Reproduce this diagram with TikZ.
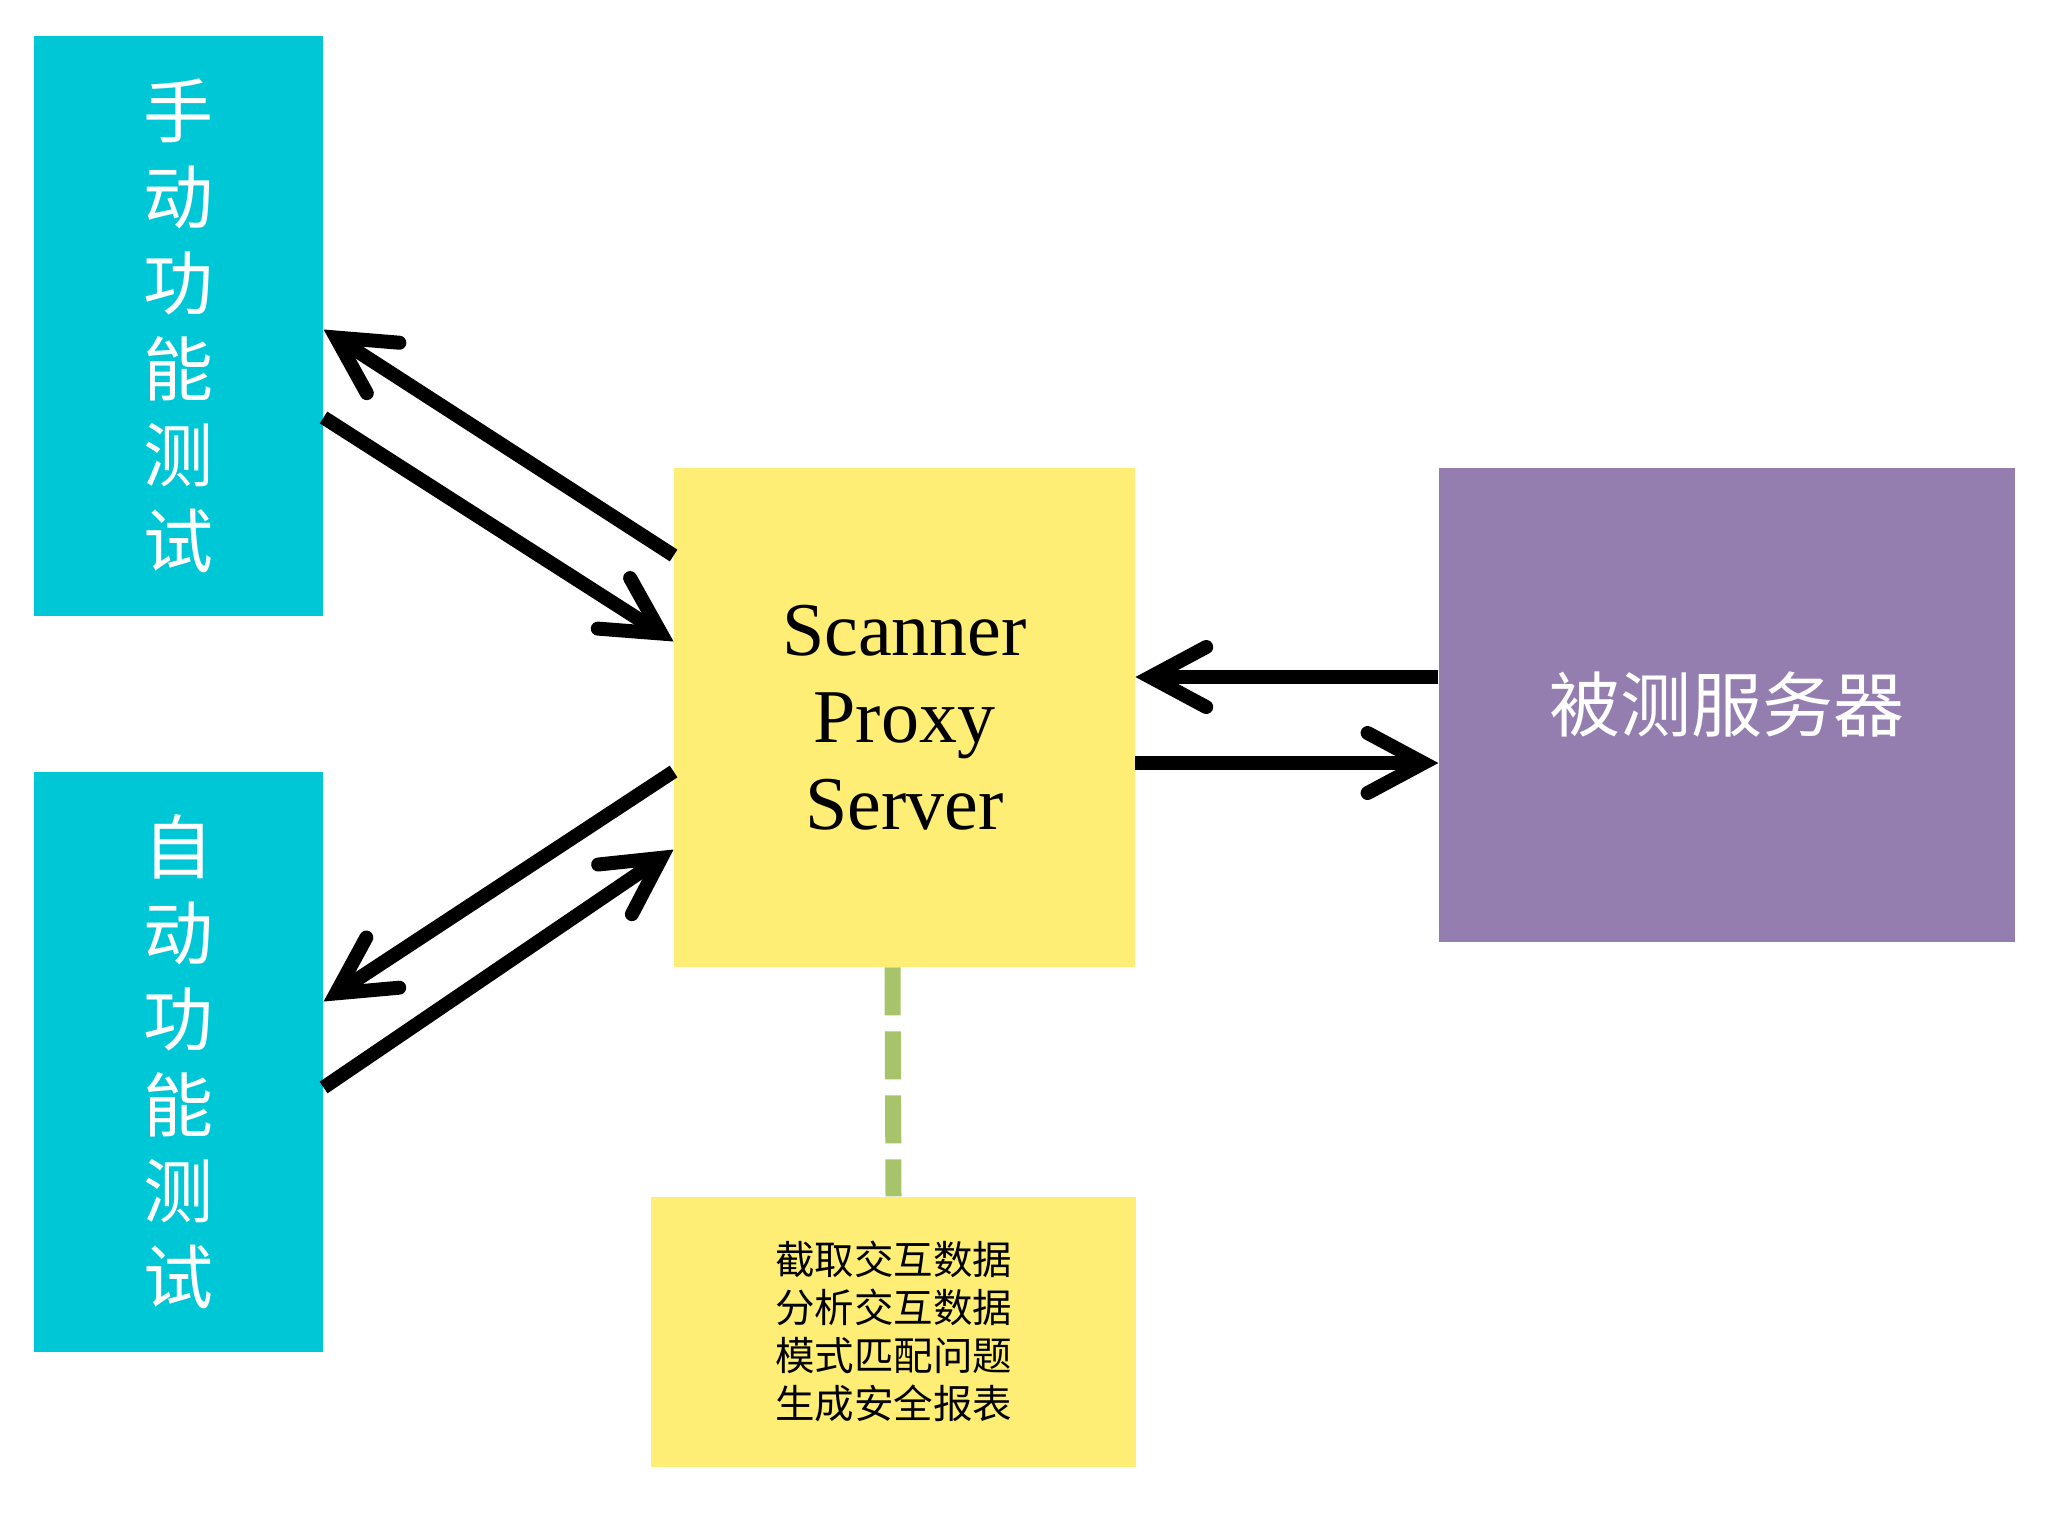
\documentclass[tikz,border=0pt]{standalone}
\usepackage{fontspec}
\setmainfont{Liberation Serif}
\newfontfamily\cjk{Noto Sans CJK SC}
\usetikzlibrary{arrows.meta, positioning}
\definecolor{testcyan}{RGB}{0,199,214}
\definecolor{proxyyellow}{RGB}{255,238,117}
\definecolor{serverpurple}{RGB}{148,126,176}
\definecolor{linkgreen}{RGB}{168,196,106}

\begin{document}
\begin{tikzpicture}[x=0.5pt, y=-0.5pt,
    box/.style={rectangle, inner sep=0pt, align=center},
    client/.style={box, fill=testcyan, text=white, minimum width=144.5pt, minimum height=290pt,
        font=\cjk\fontsize{35}{43}\selectfont},
    flow/.style={line width=7pt, -{Straight Barb[length=28pt, width=30pt, line cap=round]}},
    link/.style={line width=8pt, linkgreen, dash pattern=on 24pt off 8pt}]
    \useasboundingbox (0,0) rectangle (2056,1512);

    \node[box, fill=proxyyellow, minimum width=230.5pt, minimum height=249.5pt,
        font=\fontsize{38}{43.5}\selectfont] (proxy) at (904.5,717.5) {Scanner\\Proxy\\Server};
    \node[client, left=175pt of proxy, yshift=196pt]  (manual) {手\\动\\功\\能\\测\\试};
    \node[client, left=175pt of proxy, yshift=-172pt] (auto)   {自\\动\\功\\能\\测\\试};
    \node[box, fill=serverpurple, text=white, minimum width=288pt, minimum height=237pt,
        font=\cjk\fontsize{35.5}{40}\selectfont, right=151.5pt of proxy, yshift=6.25pt] (server) {被测服务器};
    \node[box, fill=proxyyellow, minimum width=242.5pt, minimum height=135pt,
        font=\cjk\fontsize{19.75}{24}\selectfont, below=114.5pt of proxy, xshift=-5.5pt] (report)
        {截取交互数据\\分析交互数据\\模式匹配问题\\生成安全报表};

    \path
        ([yshift=81pt]proxy.west)     edge[flow] ([yshift=-2pt]manual.east)
        ([yshift=-46pt]manual.east)   edge[flow] ([yshift=38pt]proxy.west)
        ([yshift=-27pt]proxy.west)    edge[flow] ([yshift=30pt]auto.east)
        ([yshift=-13pt]auto.east)     edge[flow] ([yshift=-66pt]proxy.west)
        ([yshift=14pt]server.west)    edge[flow] ([yshift=20.25pt]proxy.east)
        ([yshift=-22.75pt]proxy.east) edge[flow] ([yshift=-29pt]server.west);
    \draw[link] ([xshift=-6pt]proxy.south) -- (report.north);

\end{tikzpicture}
\end{document}
